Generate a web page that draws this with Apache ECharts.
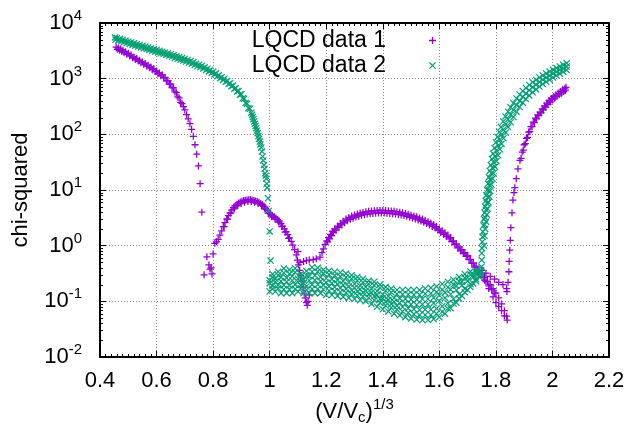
<!DOCTYPE html>
<html>
<head>
<meta charset="utf-8">
<script src="https://cdn.jsdelivr.net/npm/echarts@6/dist/echarts.min.js"></script>
<style>
html,body{margin:0;padding:0;background:#fff;}
#chart{width:632px;height:430px;}
</style>
</head>
<body>
<div id="chart"></div>
<script>
// ---------- data ----------
const seriesNames = ['LQCD data 1', 'LQCD data 2'];
const xTickLabels = ['0.4','0.6','0.8','1','1.2','1.4','1.6','1.8','2','2.2'];

// LQCD data 1 (purple "+")
const d1_leftBranch = [[0.457,3700],[0.465,3550],[0.473,3400],[0.481,3250],[0.49,3050],[0.50,2850],[0.51,2650],[0.52,2450],[0.53,2300],[0.54,2150],[0.55,2000],[0.56,1880],[0.57,1750],[0.58,1620],[0.59,1500],[0.60,1380],[0.61,1270],[0.62,1170],[0.63,1050],[0.64,920],[0.65,800],[0.66,680],[0.67,560],[0.68,450],[0.69,355],[0.695,315],[0.70,274],[0.706,225],[0.712,190],[0.718,155],[0.724,123],[0.730,92],[0.736,65],[0.742,44],[0.748,27],[0.754,13],[0.760,4]];
const d1_leftBranchB = [[0.461,3370],[0.469,3230],[0.477,3090],[0.485,2930],[0.495,2740],[0.505,2560],[0.515,2370],[0.525,2210],[0.535,2070],[0.545,1930],[0.555,1800],[0.565,1690],[0.575,1570],[0.585,1450],[0.595,1340],[0.605,1230],[0.615,1130],[0.625,1030],[0.635,915],[0.645,800],[0.655,690],[0.665,577],[0.675,470],[0.685,374]];
const d1_scatter = [[0.768,0.30],[0.778,0.63],[0.785,0.45],[0.789,0.38],[0.793,0.40],[0.796,0.31],[0.80,0.71]];
const d1_arc = [[0.806,1.10],[0.812,1.17],[0.818,1.30],[0.824,1.55],[0.830,1.85],[0.836,2.2],[0.842,2.6],[0.848,3.0],[0.854,3.45],[0.860,3.9],[0.866,4.35],[0.872,4.8],[0.878,5.2],[0.884,5.55],[0.890,5.85],[0.896,6.1],[0.902,6.3],[0.908,6.45],[0.914,6.55],[0.920,6.6],[0.926,6.65],[0.932,6.65],[0.938,6.6],[0.944,6.5],[0.950,6.35],[0.956,6.2],[0.962,6.0],[0.968,5.75],[0.974,5.45],[0.980,5.1],[0.986,4.7],[0.992,4.3],[0.998,3.95],[1.004,3.65],[1.010,3.45],[1.016,3.3],[1.022,3.15],[1.028,2.95],[1.034,2.75],[1.040,2.5],[1.046,2.25],[1.052,2.0],[1.058,1.78],[1.064,1.58],[1.070,1.38],[1.076,1.2],[1.082,1.02],[1.088,0.85],[1.094,0.68],[1.098,0.55]];
const d1_arcB = [[0.839,2.2],[0.851,3.0],[0.863,3.85],[0.875,4.6],[0.887,5.25],[0.899,5.75],[0.911,6.05],[0.923,6.2],[0.935,6.2],[0.947,6.05],[0.959,5.75],[0.971,5.25],[0.983,4.55],[0.995,3.8],[1.007,3.3],[1.019,3.0],[1.031,2.65],[1.043,2.2],[1.055,1.75],[1.067,1.35]];
const d1_dip = [[1.100,0.78],[1.102,0.45],[1.106,0.36],[1.110,0.29],[1.114,0.23],[1.118,0.18],[1.122,0.14],[1.126,0.115],[1.130,0.095],[1.133,0.085],[1.136,0.10],[1.140,0.13]];
const d1_hump = [[1.107,0.50],[1.12,0.52],[1.13,0.54],[1.14,0.55],[1.154,0.56],[1.165,0.58],[1.178,0.62],[1.185,0.75],[1.19,0.88],[1.196,1.05],[1.202,1.22],[1.208,1.4],[1.215,1.6],[1.222,1.8],[1.23,2.0],[1.24,2.25],[1.25,2.5],[1.26,2.75],[1.27,3.0],[1.28,3.2],[1.29,3.4],[1.30,3.55],[1.31,3.7],[1.32,3.85],[1.33,3.95],[1.34,4.05],[1.35,4.15],[1.36,4.2],[1.37,4.25],[1.38,4.3],[1.39,4.3],[1.40,4.3],[1.41,4.28],[1.42,4.25],[1.43,4.2],[1.44,4.15],[1.45,4.08],[1.46,4.0],[1.47,3.9],[1.48,3.8],[1.49,3.68],[1.50,3.55],[1.51,3.42],[1.52,3.3],[1.53,3.15],[1.54,3.0],[1.55,2.85],[1.56,2.7],[1.57,2.55],[1.58,2.4],[1.59,2.2],[1.60,2.0],[1.61,1.85],[1.62,1.7],[1.63,1.55],[1.64,1.4],[1.65,1.22],[1.66,1.08],[1.67,0.95],[1.68,0.85],[1.69,0.75],[1.70,0.67],[1.71,0.57],[1.72,0.49],[1.73,0.43],[1.74,0.37],[1.75,0.32],[1.76,0.27],[1.77,0.23],[1.78,0.20],[1.79,0.17],[1.80,0.14],[1.81,0.115],[1.82,0.09],[1.83,0.068],[1.838,0.054]];
const d1_humpB = [[1.205,1.17],[1.212,1.32],[1.219,1.51],[1.226,1.71],[1.235,1.91],[1.245,2.13],[1.255,2.36],[1.265,2.58],[1.275,2.79],[1.285,2.97],[1.295,3.12],[1.305,3.26],[1.315,3.39],[1.325,3.51],[1.335,3.6],[1.345,3.69],[1.355,3.75],[1.365,3.8],[1.375,3.84],[1.385,3.87],[1.395,3.87],[1.405,3.86],[1.415,3.83],[1.425,3.8],[1.435,3.75],[1.445,3.7],[1.455,3.64],[1.465,3.56],[1.475,3.47],[1.485,3.37],[1.495,3.25],[1.505,3.13],[1.515,3.02],[1.525,2.9],[1.535,2.76],[1.545,2.63],[1.555,2.49],[1.565,2.36],[1.575,2.22],[1.585,2.07],[1.595,1.89],[1.605,1.73],[1.615,1.59],[1.625,1.46],[1.635,1.32],[1.645,1.18],[1.655,1.04],[1.665,0.91],[1.675,0.81],[1.685,0.72],[1.695,0.64],[1.705,0.56],[1.715,0.48],[1.725,0.41],[1.735,0.36],[1.745,0.31],[1.755,0.27],[1.765,0.225],[1.775,0.19],[1.785,0.16],[1.795,0.14]];
const d1_tailUpper = [[1.75,0.36],[1.765,0.32],[1.78,0.28],[1.795,0.25],[1.81,0.22],[1.825,0.20],[1.838,0.17]];
const d1_tailLower = [[1.76,0.24],[1.775,0.17],[1.79,0.12],[1.80,0.095],[1.81,0.08],[1.82,0.068],[1.83,0.055],[1.84,0.046]];
const d1_rightBranch = [[1.839,0.15],[1.843,0.22],[1.846,0.34],[1.847,0.52],[1.849,0.83],[1.851,1.25],[1.853,2.1],[1.857,3.9],[1.86,6.6],[1.864,9],[1.867,11],[1.872,16],[1.878,24],[1.885,34],[1.893,48],[1.90,65],[1.908,85],[1.916,110],[1.924,138],[1.932,166],[1.94,195],[1.948,224],[1.956,251],[1.964,288],[1.972,324],[1.98,363],[1.988,407],[1.996,442],[2.004,479],[2.012,513],[2.02,550],[2.028,589],[2.036,631],[2.044,676],[2.048,700]];
const d1_rightBranchB = [[1.889,37],[1.897,52],[1.904,68],[1.912,88],[1.92,112],[1.928,137],[1.936,163],[1.944,190],[1.952,216],[1.96,243],[1.968,275],[1.976,308],[1.984,344],[1.992,381],[2.0,415],[2.008,447],[2.016,479],[2.024,513],[2.032,549],[2.04,588],[2.046,620]];

// LQCD data 2 (green "x")
const d2_leftBranch = [[0.453,5500],[0.46,5370],[0.47,5190],[0.48,5010],[0.49,4840],[0.50,4620],[0.51,4470],[0.52,4315],[0.53,4170],[0.54,4030],[0.55,3890],[0.56,3760],[0.57,3630],[0.58,3510],[0.59,3390],[0.60,3270],[0.61,3160],[0.62,3050],[0.63,2950],[0.64,2850],[0.65,2750],[0.66,2630],[0.67,2510],[0.68,2430],[0.69,2340],[0.70,2260],[0.71,2160],[0.72,2070],[0.73,1970],[0.74,1860],[0.75,1780],[0.76,1700],[0.77,1600],[0.78,1510],[0.79,1430],[0.80,1330],[0.81,1245],[0.82,1150],[0.83,1060],[0.84,1000],[0.85,910],[0.86,830],[0.87,750],[0.88,676],[0.89,600],[0.90,525],[0.91,437],[0.92,355],[0.93,288],[0.935,245],[0.94,204],[0.945,170],[0.95,141],[0.955,117],[0.96,93],[0.965,74],[0.97,58],[0.975,40],[0.98,28],[0.984,20],[0.988,16],[0.991,11],[0.994,7.1],[0.997,4.2],[1.0,1.8],[1.003,0.54]];
const d2_leftBranchB = [[0.455,5000],[0.465,4860],[0.475,4690],[0.485,4530],[0.495,4350],[0.505,4180],[0.515,4040],[0.525,3900],[0.535,3770],[0.545,3640],[0.555,3520],[0.565,3400],[0.575,3280],[0.585,3170],[0.595,3060],[0.605,2960],[0.615,2860],[0.625,2760],[0.635,2670],[0.645,2580],[0.655,2470],[0.665,2360],[0.675,2270],[0.685,2190],[0.695,2120],[0.705,2030],[0.715,1950],[0.725,1860],[0.735,1760],[0.745,1670],[0.755,1600],[0.765,1520],[0.775,1430],[0.785,1350],[0.795,1270],[0.805,1190],[0.815,1100],[0.825,1020],[0.835,950],[0.845,880],[0.855,800],[0.865,727],[0.875,656],[0.885,587],[0.895,517],[0.905,443],[0.915,364],[0.925,295],[0.9375,224],[0.9425,187],[0.9475,155],[0.9525,129],[0.9575,105],[0.9625,83],[0.9675,66],[0.9725,49],[0.9775,34],[0.982,24],[0.986,18],[0.9895,13]];
const d2_bandX_even = [1.00,1.02,1.04,1.06,1.08,1.10,1.12,1.14,1.16,1.18,1.20,1.22,1.24,1.26,1.28,1.30,1.32,1.34,1.36,1.38,1.40,1.42,1.44,1.46,1.48,1.50,1.52,1.54,1.56,1.58,1.60,1.62,1.64,1.66,1.68,1.70,1.72,1.74];
const d2_bandX_odd  = [1.01,1.03,1.05,1.07,1.09,1.11,1.13,1.15,1.17,1.19,1.21,1.23,1.25,1.27,1.29,1.31,1.33,1.35,1.37,1.39,1.41,1.43,1.45,1.47,1.49,1.51,1.53,1.55,1.57,1.59,1.61,1.63,1.65,1.67,1.69,1.71,1.73,1.745];
const d2_bandUpper = [0.31,0.34,0.39,0.37,0.39,0.31,0.35,0.41,0.40,0.37,0.355,0.34,0.33,0.315,0.295,0.275,0.255,0.235,0.225,0.20,0.18,0.17,0.16,0.16,0.16,0.16,0.16,0.17,0.175,0.185,0.205,0.225,0.245,0.275,0.31,0.345,0.36,0.35];
const d2_bandHigh = [0.272,0.294,0.326,0.312,0.332,0.281,0.293,0.340,0.341,0.317,0.304,0.292,0.281,0.269,0.254,0.237,0.220,0.206,0.194,0.175,0.155,0.145,0.136,0.134,0.133,0.131,0.131,0.137,0.139,0.146,0.162,0.179,0.200,0.229,0.264,0.302,0.329,0.340];
const d2_bandMidHigh = [0.238,0.254,0.272,0.263,0.282,0.254,0.245,0.282,0.29,0.272,0.26,0.25,0.24,0.23,0.218,0.205,0.19,0.18,0.168,0.153,0.133,0.124,0.115,0.112,0.11,0.108,0.107,0.11,0.11,0.116,0.128,0.143,0.163,0.19,0.225,0.265,0.30,0.33];
const d2_bandMid = [0.212,0.223,0.230,0.225,0.237,0.223,0.213,0.237,0.241,0.230,0.219,0.212,0.204,0.196,0.186,0.175,0.165,0.155,0.144,0.130,0.114,0.106,0.098,0.094,0.091,0.088,0.0865,0.088,0.088,0.093,0.102,0.115,0.134,0.160,0.194,0.233,0.274,0.315];
const d2_bandMidLow = [0.189,0.195,0.195,0.192,0.199,0.195,0.185,0.199,0.20,0.195,0.185,0.18,0.174,0.167,0.158,0.15,0.143,0.134,0.123,0.11,0.098,0.09,0.083,0.079,0.075,0.072,0.07,0.071,0.071,0.074,0.082,0.092,0.11,0.134,0.168,0.205,0.25,0.30];
const d2_bandLow = [0.168,0.171,0.165,0.164,0.167,0.171,0.161,0.167,0.167,0.165,0.155,0.153,0.147,0.142,0.135,0.128,0.123,0.116,0.105,0.094,0.084,0.077,0.071,0.066,0.0625,0.059,0.057,0.057,0.057,0.060,0.065,0.074,0.091,0.113,0.145,0.181,0.229,0.29];
const d2_bandLower = [0.15,0.15,0.14,0.14,0.14,0.15,0.14,0.14,0.14,0.14,0.13,0.13,0.125,0.12,0.115,0.11,0.105,0.10,0.09,0.08,0.072,0.066,0.06,0.056,0.052,0.049,0.047,0.046,0.046,0.048,0.052,0.06,0.075,0.095,0.125,0.16,0.21,0.28];
const d2_rightBranch = [[1.748,0.36],[1.749,0.42],[1.750,0.55],[1.750,0.73],[1.751,0.90],[1.752,1.17],[1.753,1.44],[1.754,1.78],[1.756,2.3],[1.758,3.0],[1.760,3.9],[1.762,5.0],[1.764,6.4],[1.766,8.0],[1.769,10],[1.772,13],[1.775,17],[1.778,22],[1.782,28],[1.786,36],[1.79,45],[1.795,57],[1.80,72],[1.806,90],[1.812,110],[1.818,135],[1.826,170],[1.834,210],[1.843,255],[1.852,305],[1.862,365],[1.873,440],[1.884,520],[1.895,600],[1.906,680],[1.918,770],[1.93,860],[1.942,950],[1.954,1050],[1.966,1140],[1.978,1240],[1.99,1340],[2.002,1440],[2.014,1550],[2.026,1660],[2.038,1780],[2.05,1900]];
const d2_rightBranchMid = [[1.76,2.4],[1.762,3.2],[1.765,4.4],[1.768,5.8],[1.771,7.4],[1.774,9.7],[1.777,12.3],[1.78,15.5],[1.784,20],[1.788,25],[1.792,31.6],[1.797,40],[1.802,51],[1.808,63],[1.814,80],[1.82,99],[1.827,122],[1.835,152],[1.843,186],[1.852,224],[1.862,274],[1.873,335],[1.884,400],[1.895,471],[1.906,541],[1.918,620],[1.93,700],[1.942,780],[1.954,870],[1.966,955],[1.978,1045],[1.99,1134],[2.002,1230],[2.014,1330],[2.026,1430],[2.038,1540],[2.05,1650]];
const d2_rightBranchEdge = [[1.758,1.0],[1.76,1.5],[1.762,2.0],[1.765,2.7],[1.768,3.6],[1.771,4.6],[1.774,6],[1.777,7.6],[1.78,9.6],[1.784,12.5],[1.788,16],[1.792,20],[1.797,26],[1.802,33],[1.808,42],[1.814,54],[1.82,68],[1.827,85],[1.835,108],[1.843,135],[1.852,165],[1.862,205],[1.873,255],[1.884,310],[1.895,370],[1.906,430],[1.918,500],[1.93,570],[1.942,640],[1.954,720],[1.966,800],[1.978,880],[1.99,960],[2.002,1050],[2.014,1140],[2.026,1230],[2.038,1330],[2.05,1430]];

// ---------- build ----------
function zipXY(xs, ys){ return xs.map((x,i)=>[x, ys[i]]); }
const data1 = [].concat(d1_leftBranch, d1_leftBranchB, d1_scatter, d1_arc, d1_arcB, d1_dip, d1_hump, d1_humpB,
  d1_tailUpper, d1_tailLower, d1_rightBranch, d1_rightBranchB);
const data2 = [].concat(d2_leftBranch, d2_leftBranchB,
  zipXY(d2_bandX_even, d2_bandLower), zipXY(d2_bandX_odd, d2_bandLow),
  zipXY(d2_bandX_odd, d2_bandMidLow), zipXY(d2_bandX_even, d2_bandMid),
  zipXY(d2_bandX_even, d2_bandMidHigh), zipXY(d2_bandX_odd, d2_bandHigh),
  zipXY(d2_bandX_odd, d2_bandUpper),
  d2_rightBranch, d2_rightBranchMid, d2_rightBranchEdge);

const plusPath = 'path://M0,4.1H10V5.9H0Z M4.1,0H5.9V10H4.1Z';
const crossPath = 'path://M0,1.2L1.2,0L10,8.8L8.8,10Z M8.8,0L10,1.2L1.2,10L0,8.8Z';
const FONT = '"Liberation Sans", Arial, sans-serif';

// log-axis minor tick values (2..9 x 10^k)
const yMinorTicks = [];
for (let k = -2; k < 4; k++) for (let m = 2; m <= 9; m++) yMinorTicks.push(+(m * Math.pow(10, k)).toPrecision(3));

const chart = echarts.init(document.getElementById('chart'), null, {renderer: 'canvas'});
const axisCommonX = {
  type: 'value', min: 0.4, max: 2.2, interval: 0.2,
  axisLine: {show: true, onZero: false, lineStyle: {color: '#000', width: 2}},
  axisTick: {show: true, inside: true, length: 6, lineStyle: {color: '#000', width: 1}},
  minorTick: {show: true, splitNumber: 10, length: 3, lineStyle: {color: '#000', width: 1}}
};
const axisCommonY = {
  type: 'log', logBase: 10, min: 0.01, max: 10000, interval: 1,
  axisLine: {show: true, lineStyle: {color: '#000', width: 2}},
  axisTick: {show: true, inside: true, length: 6, lineStyle: {color: '#000', width: 1}}
};
chart.setOption({
  animation: false,
  backgroundColor: '#fff',
  textStyle: {fontFamily: FONT},
  grid: {left: 100, right: 23, top: 23, bottom: 73, containLabel: false},
  legend: {
    orient: 'vertical', right: 191, top: 23, align: 'right',
    itemWidth: 7, itemHeight: 7, itemGap: 0,
    textStyle: {fontSize: 23, color: '#000', fontFamily: FONT, lineHeight: 25, padding: [0, 38, 0, 0]},
    data: [{name: seriesNames[0], icon: plusPath}, {name: seriesNames[1], icon: crossPath}]
  },
  xAxis: [
    Object.assign({}, axisCommonX, {
      position: 'bottom',
      splitLine: {show: true, lineStyle: {color: '#888', width: 1, type: [1, 2]}},
      axisLabel: {fontSize: 22, color: '#000', margin: 13, fontFamily: FONT,
        formatter: v => { const s = String(+v.toFixed(1)); return xTickLabels.indexOf(s) >= 0 ? s : ''; }},
      name: '{m|(V/V}{sub|c}{m|)}{sup|1/3}', nameLocation: 'middle', nameGap: 40,
      nameTextStyle: {fontFamily: FONT, color: '#000', rich: {
        m: {fontSize: 22, color: '#000', fontFamily: FONT},
        sub: {fontSize: 15, color: '#000', fontFamily: FONT, padding: [12, 0, 0, 0]},
        sup: {fontSize: 15, color: '#000', fontFamily: FONT, padding: [0, 0, 14, 0]}
      }}
    }),
    Object.assign({}, axisCommonX, {
      position: 'top', splitLine: {show: false}, axisLabel: {show: false}
    })
  ],
  yAxis: [
    Object.assign({}, axisCommonY, {
      position: 'left',
      splitLine: {show: true, lineStyle: {color: '#888', width: 1, type: [1, 2]}},
      axisLabel: {margin: 18, fontFamily: FONT,
        formatter: v => '{b|10}{s|' + Math.round(Math.log10(v)) + '}',
        rich: {
          b: {fontSize: 22, color: '#000', fontFamily: FONT},
          s: {fontSize: 15, color: '#000', fontFamily: FONT, padding: [0, 0, 14, 0]}
        }},
      name: 'chi-squared', nameLocation: 'middle', nameGap: 68, nameRotate: 90,
      nameTextStyle: {fontSize: 22, color: '#000', fontFamily: FONT}
    }),
    Object.assign({}, axisCommonY, {
      position: 'right', splitLine: {show: false}, axisLabel: {show: false}
    })
  ],
  series: [
    {
      name: seriesNames[0], type: 'scatter', xAxisIndex: 0, yAxisIndex: 0,
      symbol: plusPath, symbolSize: 7, itemStyle: {color: '#9400D3', opacity: 1},
      data: data1, z: 3, silent: true
    },
    {
      name: seriesNames[1], type: 'scatter', xAxisIndex: 0, yAxisIndex: 0,
      symbol: crossPath, symbolSize: 7, itemStyle: {color: '#009E73', opacity: 1},
      data: data2, z: 4, silent: true
    },
    {
      name: 'yMinorTicks', type: 'custom', xAxisIndex: 0, yAxisIndex: 0, silent: true, clip: false, z: 5,
      data: yMinorTicks.map(v => [0.4, v]),
      renderItem: function (params, api) {
        const v = api.value(1);
        const l = api.coord([0.4, v]);
        const r = api.coord([2.2, v]);
        const y = Math.round(l[1]) + 0.5;
        return {type: 'group', children: [
          {type: 'line', shape: {x1: l[0], y1: y, x2: l[0] + 3, y2: y}, style: {stroke: '#000', lineWidth: 1}},
          {type: 'line', shape: {x1: r[0] - 3, y1: y, x2: r[0], y2: y}, style: {stroke: '#000', lineWidth: 1}}
        ]};
      }
    }
  ]
});
</script>
</body>
</html>
